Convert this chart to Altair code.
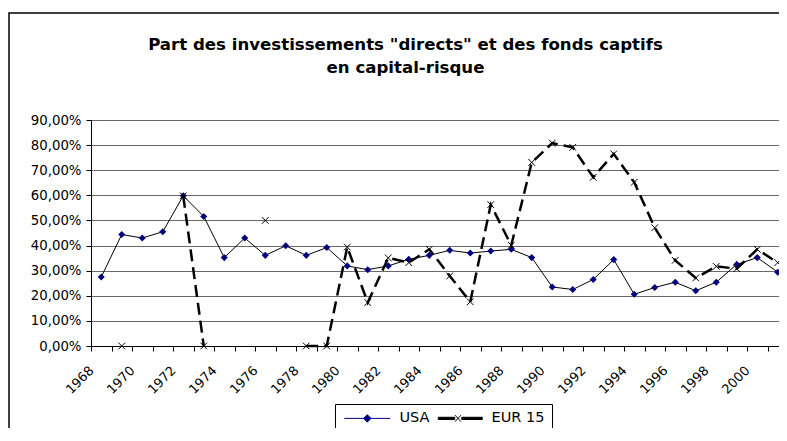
import altair as alt
import pandas as pd

years = list(range(1968, 2002))
usa = [27.5, 44.4, 43.0, 45.5, 59.8, 51.6, 35.2, 43.0, 36.1, 39.9, 36.1, 39.2,
       31.9, 30.4, 31.9, 34.5, 36.1, 38.1, 37.0, 37.8, 38.5, 35.2, 23.5, 22.5,
       26.5, 34.4, 20.6, 23.3, 25.4, 22.0, 25.4, 32.5, 35.2, 29.4]
eur = [None, 0.0, None, None, 59.8, 0.0, None, None, 50.0, None, 0.0, 0.0,
       39.4, 17.3, 35.1, 33.2, 38.5, 27.9, 17.6, 56.3, 40.1, 73.1, 80.8, 79.1,
       67.2, 76.5, 65.2, 47.1, 34.1, 27.1, 31.7, 30.8, 38.5, 33.2]
series_names = ["USA", "EUR 15"]
series_colors = ["#000080", "black"]
y_ticks = [0.0, 0.1, 0.2, 0.3, 0.4, 0.5, 0.6, 0.7, 0.8, 0.9]
title_lines = ['Part des investissements "directs" et des fonds captifs',
               'en capital-risque']

FONT = "DejaVu Sans"

usa_df = pd.DataFrame({"year": years, "value": [v / 100 for v in usa]})

# group consecutive non-missing EUR values into runs (missing values break the line)
seg, run, prev_missing = [], 0, True
for v in eur:
    if v is None:
        seg.append(-1)
        prev_missing = True
    else:
        if prev_missing:
            run += 1
        seg.append(run)
        prev_missing = False
eur_df = pd.DataFrame({"year": years,
                       "value": [float("nan") if v is None else v / 100 for v in eur],
                       "seg": seg})
eur_df = eur_df[eur_df["seg"] >= 0].reset_index(drop=True)

legend_df = pd.DataFrame({"series": series_names, "year": [1968, 1968], "value": [0.0, 0.0]})

x_enc = alt.X(
    "year:O",
    scale=alt.Scale(type="band", paddingInner=0, paddingOuter=0),
    axis=alt.Axis(
        title=None, grid=False, tickBand="extent", tickSize=5, tickColor="black",
        domainColor="black", labelAngle=-45, labelAlign="right", labelBaseline="middle",
        labelFont=FONT, labelFontSize=13, labelColor="black", labelOffset=-10,
        labelPadding=17, labelOverlap=False,
        labelExpr="datum.value % 2 == 0 ? datum.label : ''",
    ),
)
y_enc = alt.Y(
    "value:Q",
    scale=alt.Scale(domain=[0, 0.9], nice=False, zero=True),
    axis=alt.Axis(
        title=None, values=y_ticks, grid=True, gridColor="#6a6a6a", gridWidth=1,
        tickSize=5, tickColor="black", domainColor="black",
        labelFont=FONT, labelFontSize=13.3, labelColor="black", labelPadding=5,
        labelExpr="replace(format(datum.value, '.2%'), '.', ',')",
    ),
)

border = alt.Chart(pd.DataFrame({"k": [0]})).mark_rect(
    filled=False, stroke="black", strokeWidth=1.5, clip=False
).encode(x=alt.value(-82), x2=alt.value(900), y=alt.value(-107), y2=alt.value(600))

usa_line = alt.Chart(usa_df).mark_line(color="black", strokeWidth=1).encode(x=x_enc, y=y_enc)
usa_pts = alt.Chart(usa_df).mark_point(
    shape="diamond", filled=True, color="#000080", size=50, opacity=1
).encode(x=x_enc, y=y_enc)

eur_line = alt.Chart(eur_df).mark_line(
    color="black", strokeWidth=2.5, strokeDash=[12, 6]
).encode(x=x_enc, y=y_enc, detail="seg:N")
eur_pts = alt.Chart(eur_df).mark_point(
    shape="M-1,-1L1,1M-1,1L1,-1", filled=False, color="black", strokeWidth=1, size=45, opacity=1
).encode(x=x_enc, y=y_enc)

usa_path = "M-1,0H8.2M3.6,-0.75L4.35,0L3.6,0.75L2.85,0Z"
eur_path = ("M-0.6,-0.22H2.7V0.22H-0.6Z M4.1,-0.22H8.2V0.22H4.1Z "
            "M2.75,-0.65L3.95,0.65M2.75,0.65L3.95,-0.65")

leg = alt.Legend(
    title=None, orient="none", legendX=244, legendY=284, direction="horizontal",
    labelFont=FONT, labelFontSize=14.5, labelColor="black", labelOffset=43,
    symbolSize=100, symbolStrokeWidth=1, columnPadding=4, padding=7,
    strokeColor="black", fillColor="white", labelLimit=200,
)
legend_layer = alt.Chart(legend_df).mark_point(filled=True, opacity=1).encode(
    x=x_enc, y=y_enc,
    fill=alt.Fill("series:N", scale=alt.Scale(domain=series_names, range=series_colors), legend=leg),
    stroke=alt.Stroke("series:N", scale=alt.Scale(domain=series_names, range=series_colors), legend=leg),
    shape=alt.Shape("series:N", scale=alt.Scale(domain=series_names, range=[usa_path, eur_path]), legend=leg),
).transform_filter("datum.value < 0")

chart = alt.layer(border, usa_line, usa_pts, eur_line, eur_pts, legend_layer).properties(
    width=697, height=226,
    padding={"left": 83, "top": 112, "right": -9, "bottom": 82},
    autosize=alt.AutoSizeParams(type="none"),
    title=alt.TitleParams(
        text=title_lines, font=FONT, fontSize=16.6, fontWeight="bold", color="black",
        anchor="middle", frame="group", baseline="bottom", dx=-34, offset=0, dy=80,
        lineHeight=23,
    ),
).configure_view(stroke="transparent").configure(background="white")

chart.save("out.html", embed_options={"renderer": "svg", "actions": False})
